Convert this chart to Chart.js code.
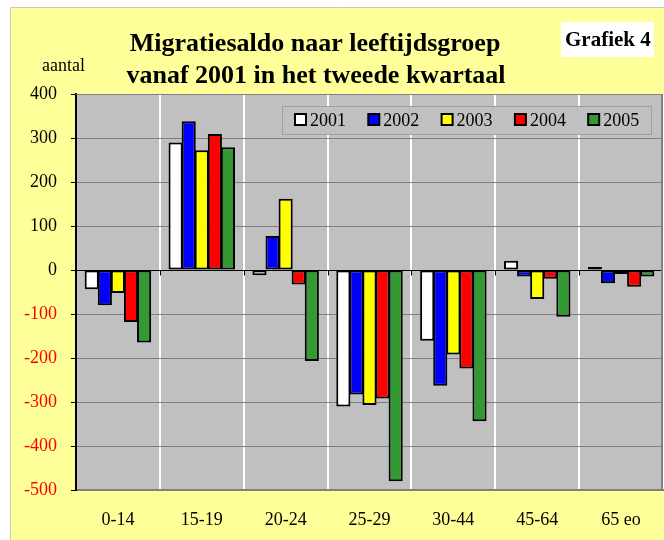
<!DOCTYPE html>
<html>
<head>
<meta charset="utf-8">
<script src="https://cdn.jsdelivr.net/npm/chart.js@4"></script>
<style>
  body { margin: 0; background: #fff; }
  canvas { display: block; }
</style>
</head>
<body>
<canvas id="chart" width="664" height="540"></canvas>
<script>
let groups = ["0-14", "15-19", "20-24", "25-29", "30-44", "45-64", "65 eo"];
let years = ["2001", "2002", "2003", "2004", "2005"];
let s2001 = [-44, 290, -12, -310, -161, 21, 7];
let s2002 = [-80, 338, 77, -283, -263, -15, -30];
let s2003 = [-52, 272, 162, -307, -192, -66, -9];
let s2004 = [-118, 309, -33, -292, -224, -20, -38];
let s2005 = [-165, 279, -207, -480, -344, -106, -15];
let yTicks = [400, 300, 200, 100, 0, -100, -200, -300, -400, -500];
let colors = ["#FFFFFF", "#0000FF", "#FFFF00", "#FF0000", "#339933"];

const serif = "'Liberation Serif', 'Times New Roman', serif";
const ctx = document.getElementById("chart");

// achtergrond, kader, titel en legenda
const decor = {
  id: "decor",
  beforeDraw(chart) {
    let c = chart.ctx;
    let a = chart.chartArea;
    c.save();
    c.fillStyle = "#FFFFFF";
    c.fillRect(0, 0, chart.width, chart.height);
    c.fillStyle = "#FFFF99";
    c.fillRect(10, 8, chart.width - 10, chart.height - 8);
    c.strokeStyle = "#C8C8C8";
    c.lineWidth = 1;
    c.beginPath();
    c.moveTo(10.5, chart.height);
    c.lineTo(10.5, 7.5);
    c.lineTo(chart.width, 7.5);
    c.stroke();
    c.fillStyle = "#C0C0C0";
    c.fillRect(a.left, a.top, a.right - a.left, a.bottom - a.top);
    c.restore();
  },
  afterDatasetsDraw(chart) {
    let c = chart.ctx;
    let a = chart.chartArea;
    let x = chart.scales.x;
    let y0 = Math.round(chart.scales.y.getPixelForValue(0)) + 0.5;
    c.save();
    // streepjes op de nullijn
    c.strokeStyle = "#000";
    c.lineWidth = 1;
    c.beginPath();
    for (let i = 1; i < groups.length; i++) {
      let px = Math.round(x.getPixelForValue(i - 0.5)) + 0.5;
      c.moveTo(px, y0);
      c.lineTo(px, y0 + 5);
    }
    c.stroke();
    // rand plotgebied
    c.strokeStyle = "#808080";
    c.beginPath();
    c.moveTo(a.left, a.top + 0.5);
    c.lineTo(a.right - 1, a.top + 0.5);
    c.stroke();
    c.lineWidth = 2;
    c.beginPath();
    c.moveTo(a.right - 1, a.top);
    c.lineTo(a.right - 1, a.bottom);
    c.stroke();

    // legenda
    let lx = 282, ly = 106, lw = 369, lh = 28;
    c.lineWidth = 1;
    c.fillStyle = "#C0C0C0";
    c.fillRect(lx, ly, lw, lh);
    c.strokeStyle = "#A0A0A0";
    c.strokeRect(lx + 0.5, ly + 0.5, lw, lh);
    c.font = "18px " + serif;
    c.textBaseline = "alphabetic";
    c.textAlign = "left";
    chart.data.datasets.forEach((ds, i) => {
      let bx = lx + 12 + i * 73.3;
      c.fillStyle = "#000";
      c.fillRect(bx, ly + 7, 13, 13);
      c.fillStyle = ds.backgroundColor;
      c.fillRect(bx + 2, ly + 9, 9, 9);
      c.fillStyle = "#000";
      c.fillText(ds.label, bx + 16, ly + 20);
    });
    c.restore();
  },
  afterDraw(chart) {
    let c = chart.ctx;
    c.save();
    c.fillStyle = "#000";
    c.textAlign = "center";
    c.textBaseline = "alphabetic";
    c.font = "bold 26px " + serif;
    c.fillText("Migratiesaldo naar leeftijdsgroep", 315, 51);
    c.fillText("vanaf 2001 in het tweede kwartaal", 316, 83);
    c.fillStyle = "#FFFFFF";
    c.fillRect(561, 22, 93, 35);
    c.fillStyle = "#000";
    c.textAlign = "left";
    c.font = "bold 21px " + serif;
    c.fillText("Grafiek 4", 565, 46);
    c.font = "18px " + serif;
    c.fillText("aantal", 42, 71);
    c.restore();
  },
};

let myChart = new Chart(ctx, {
  type: "bar",
  data: {
    labels: groups,
    datasets: [s2001, s2002, s2003, s2004, s2005].map((d, i) => ({
      label: years[i],
      data: d,
      backgroundColor: colors[i],
      borderColor: "#000",
      borderWidth: 2,
      borderSkipped: false,
      inflateAmount: 0,
      categoryPercentage: 0.78,
      barPercentage: 1.08,
    })),
  },
  options: {
    responsive: false,
    devicePixelRatio: 1,
    animation: false,
    layout: { padding: { top: 94, right: 1, bottom: 0, left: 0 } },
    plugins: {
      legend: { display: false },
      title: { display: false },
      tooltip: { enabled: false },
    },
    scales: {
      x: {
        afterFit: (scale) => {
          scale.height = 50;
        },
        grid: {
          offset: true,
          drawTicks: false,
          lineWidth: 2,
          color: (c) => (c.index === 0 || c.index === groups.length ? "rgba(0,0,0,0)" : "#FFFFFF"),
        },
        border: { display: true, color: "#808080", width: 2 },
        ticks: {
          color: "#000",
          padding: 19,
          font: { family: serif, size: 18 },
        },
      },
      y: {
        min: -500,
        max: 400,
        afterFit: (scale) => {
          scale.width = 76;
        },
        afterBuildTicks: (scale) => {
          scale.ticks = yTicks.map((v) => ({ value: v }));
        },
        grid: {
          color: (c) => (c.tick && c.tick.value === 0 ? "#000000" : "#808080"),
          tickColor: "#000",
          tickLength: 5,
        },
        border: { display: true, color: "#000", width: 2 },
        ticks: {
          padding: 14,
          color: (c) => (c.tick.value < 0 ? "#FF0000" : "#000000"),
          font: { family: serif, size: 18 },
        },
      },
    },
  },
  plugins: [decor],
});
</script>
</body>
</html>
